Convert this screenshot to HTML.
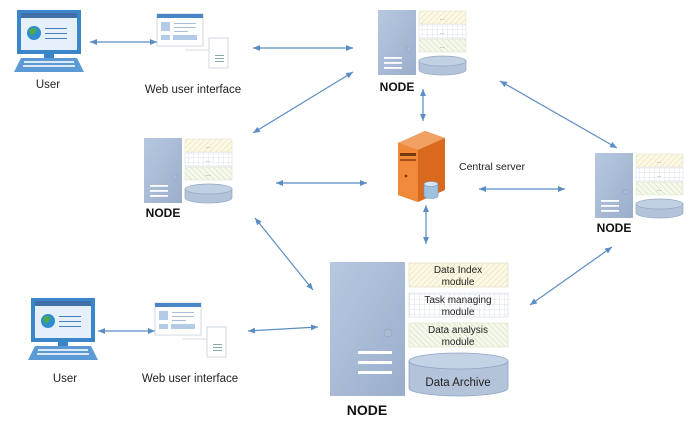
<!DOCTYPE html>
<html><head><meta charset="utf-8"><style>
html,body{margin:0;padding:0;background:#fff;}
svg{display:block;font-family:"Liberation Sans",sans-serif;}
</style></head><body>
<svg width="690" height="423" viewBox="0 0 690 423" xmlns="http://www.w3.org/2000/svg">
<defs>
<linearGradient id="tw" x1="0" y1="0" x2="1" y2="1"><stop offset="0" stop-color="#b7c8e0"/><stop offset="1" stop-color="#9aaecb"/></linearGradient>
<pattern id="diagY" width="4" height="4" patternUnits="userSpaceOnUse" patternTransform="rotate(45)"><rect width="4" height="4" fill="#fbf8e6"/><line x1="0" y1="0" x2="0" y2="4" stroke="#e6dca0" stroke-width="1"/></pattern>
<pattern id="grid" width="5" height="5" patternUnits="userSpaceOnUse"><rect width="5" height="5" fill="#fff"/><path d="M5 0V5M0 5H5" stroke="#cfd9e8" stroke-width="0.7" fill="none"/></pattern>
<pattern id="diagG" width="4" height="4" patternUnits="userSpaceOnUse" patternTransform="rotate(-45)"><rect width="4" height="4" fill="#f5f8ec"/><line x1="0" y1="0" x2="0" y2="4" stroke="#cfdcae" stroke-width="1"/></pattern>
<marker id="ah" markerWidth="8" markerHeight="8" refX="7" refY="4" orient="auto-start-reverse" markerUnits="userSpaceOnUse"><path d="M0,1 L7,4 L0,7 Z" fill="#5b8dc5"/></marker>
<g id="snode">
<rect x="0" y="0" width="38" height="65" fill="url(#tw)"/>
<circle cx="31" cy="39" r="2.5" fill="#a9bbd5" stroke="#8ea3c2" stroke-width="0.6"/>
<rect x="6" y="47" width="18" height="1.8" fill="#fff"/><rect x="6" y="52" width="18" height="1.8" fill="#fff"/><rect x="6" y="57" width="18" height="1.8" fill="#fff"/>
<rect x="41" y="1" width="47" height="13" fill="url(#diagY)" stroke="#e5e5d5" stroke-width="0.6"/>
<rect x="41" y="15" width="47" height="13" fill="url(#grid)" stroke="#dde" stroke-width="0.6"/>
<rect x="41" y="29" width="47" height="13" fill="url(#diagG)" stroke="#e0e6d5" stroke-width="0.6"/>
<text x="64" y="10" font-size="5" text-anchor="middle" fill="#555">...</text>
<text x="64" y="24" font-size="5" text-anchor="middle" fill="#555">...</text>
<text x="64" y="38" font-size="5" text-anchor="middle" fill="#555">...</text>
<path d="M41 51 V60 A23.5 5 0 0 0 88 60 V51 Z" fill="#b3c3da" stroke="#93a7c4" stroke-width="0.7"/>
<ellipse cx="64.5" cy="51" rx="23.5" ry="5" fill="#c2d0e3" stroke="#93a7c4" stroke-width="0.7"/>
</g>
<g id="laptop">
<rect x="3" y="0" width="64" height="44" fill="#3b86c9"/>
<rect x="7" y="3" width="56" height="37" fill="#e6f0fa"/>
<rect x="7" y="3" width="56" height="5" fill="#3f6fa6"/>
<circle cx="20" cy="23" r="7" fill="#2f8dd0"/><path d="M15 20 q4 -4 8 0 q-2 4 -6 6 z" fill="#4caa4a"/>
<rect x="31" y="18" width="22" height="1" fill="#4a7fb8"/><rect x="31" y="23" width="22" height="1" fill="#4a7fb8"/><rect x="31" y="28" width="22" height="1" fill="#4a7fb8"/>
<rect x="30" y="44" width="10" height="4" fill="#3b86c9"/>
<path d="M7 48 H63 L70 62 H0 Z" fill="#5b9ad6"/>
<rect x="10" y="51" width="50" height="2" fill="#dce8f5"/><rect x="9" y="55" width="52" height="2" fill="#dce8f5"/>
</g>
<g id="webui">
<rect x="0" y="0" width="46" height="32" fill="#fff" stroke="#c5cfdc" stroke-width="0.8"/>
<rect x="0" y="0" width="46" height="4" fill="#4a86c6"/>
<rect x="4" y="8" width="9" height="9" fill="#b3cbe6"/>
<rect x="17" y="9" width="22" height="1" fill="#aabdd6"/><rect x="17" y="13" width="22" height="1" fill="#aabdd6"/><rect x="17" y="17" width="14" height="1" fill="#aabdd6"/>
<rect x="4" y="21" width="9" height="5" fill="#b3cbe6"/><rect x="16" y="21" width="24" height="5" fill="#b3cbe6"/>
<rect x="52" y="24" width="19" height="30" fill="#fff" stroke="#c5cfdc" stroke-width="0.8"/>
<line x1="28" y1="36" x2="52" y2="36" stroke="#c5cfdc" stroke-width="0.8"/>
<rect x="58" y="41" width="9" height="1" fill="#8aa"/><rect x="58" y="44" width="9" height="1" fill="#8aa"/><rect x="58" y="47" width="9" height="1" fill="#8aa"/>
</g>
</defs>

<g stroke="#5b8dc5" stroke-width="1.2" fill="none" marker-start="url(#ah)" marker-end="url(#ah)">
<line x1="90" y1="42" x2="157" y2="42"/>
<line x1="253" y1="48" x2="353" y2="48"/>
<line x1="253" y1="133" x2="353" y2="72"/>
<line x1="276" y1="183" x2="367" y2="183"/>
<line x1="423" y1="89" x2="423" y2="121"/>
<line x1="426" y1="205" x2="426" y2="244"/>
<line x1="479" y1="189" x2="565" y2="189"/>
<line x1="500" y1="81" x2="617" y2="148"/>
<line x1="530" y1="305" x2="612" y2="247"/>
<line x1="255" y1="218" x2="313" y2="290"/>
<line x1="248" y1="331" x2="318" y2="327"/>
<line x1="98" y1="331" x2="155" y2="331"/>
</g>

<use href="#laptop" x="14" y="10"/>
<use href="#laptop" x="28" y="298"/>
<use href="#webui" x="157" y="14"/>
<use href="#webui" x="155" y="303"/>
<text x="48" y="88" font-size="11.5" text-anchor="middle" fill="#222">User</text>
<text x="65" y="382" font-size="11.5" text-anchor="middle" fill="#222">User</text>
<text x="193" y="93" font-size="11.5" text-anchor="middle" fill="#222">Web user interface</text>
<text x="190" y="382" font-size="11.5" text-anchor="middle" fill="#222">Web user interface</text>

<use href="#snode" x="378" y="10"/>
<use href="#snode" x="144" y="138"/>
<use href="#snode" x="595" y="153"/>
<text x="397" y="91" font-size="12" font-weight="bold" text-anchor="middle" fill="#111">NODE</text>
<text x="163" y="217" font-size="12" font-weight="bold" text-anchor="middle" fill="#111">NODE</text>
<text x="614" y="232" font-size="12" font-weight="bold" text-anchor="middle" fill="#111">NODE</text>

<path d="M398 143 L425 131 L445 138 L445 190 L418 202 L398 195 Z" fill="#d9691c"/>
<path d="M398 143 L425 131 L445 138 L418 150 Z" fill="#f0a060"/>
<path d="M398 143 L418 150 L418 202 L398 195 Z" fill="#f08a3a"/>
<rect x="400" y="153" width="16" height="3" fill="#7a3a10"/>
<rect x="400" y="159" width="16" height="2" fill="#a84d15"/>
<circle cx="406" cy="176" r="1.4" fill="#7a3a10"/>
<path d="M424 184 V196 A7 2.5 0 0 0 438 196 V184 Z" fill="#9fc1e0" stroke="#6f94bb" stroke-width="0.6"/>
<ellipse cx="431" cy="184" rx="7" ry="2.5" fill="#d5e5f3" stroke="#6f94bb" stroke-width="0.6"/>
<text x="459" y="170" font-size="10.5" fill="#222">Central server</text>

<rect x="330" y="262" width="75" height="134" fill="url(#tw)"/>
<circle cx="388" cy="333" r="4" fill="#a9bbd5" stroke="#8ea3c2" stroke-width="0.7"/>
<rect x="358" y="351" width="34" height="3" fill="#fff"/><rect x="358" y="361" width="34" height="3" fill="#fff"/><rect x="358" y="371" width="34" height="3" fill="#fff"/>
<rect x="409" y="263" width="99" height="24" fill="url(#diagY)" stroke="#e0e0c8" stroke-width="0.7"/>
<rect x="409" y="293" width="99" height="24" fill="url(#grid)" stroke="#d8dde8" stroke-width="0.7"/>
<rect x="409" y="323" width="99" height="24" fill="url(#diagG)" stroke="#dde4cc" stroke-width="0.7"/>
<g font-size="10" text-anchor="middle" fill="#222">
<text x="458" y="273">Data Index</text><text x="458" y="285">module</text>
<text x="458" y="303">Task managing</text><text x="458" y="315">module</text>
<text x="458" y="333">Data analysis</text><text x="458" y="345">module</text>
</g>
<path d="M409 361 V388 A49.5 8 0 0 0 508 388 V361 Z" fill="#b3c3da" stroke="#8ea3c2" stroke-width="0.8"/>
<ellipse cx="458.5" cy="361" rx="49.5" ry="8" fill="#c4d2e5" stroke="#8ea3c2" stroke-width="0.8"/>
<text x="458" y="386" font-size="11.5" text-anchor="middle" fill="#222">Data Archive</text>
<text x="367" y="415" font-size="14" font-weight="bold" text-anchor="middle" fill="#111">NODE</text>
</svg>
</body></html>
